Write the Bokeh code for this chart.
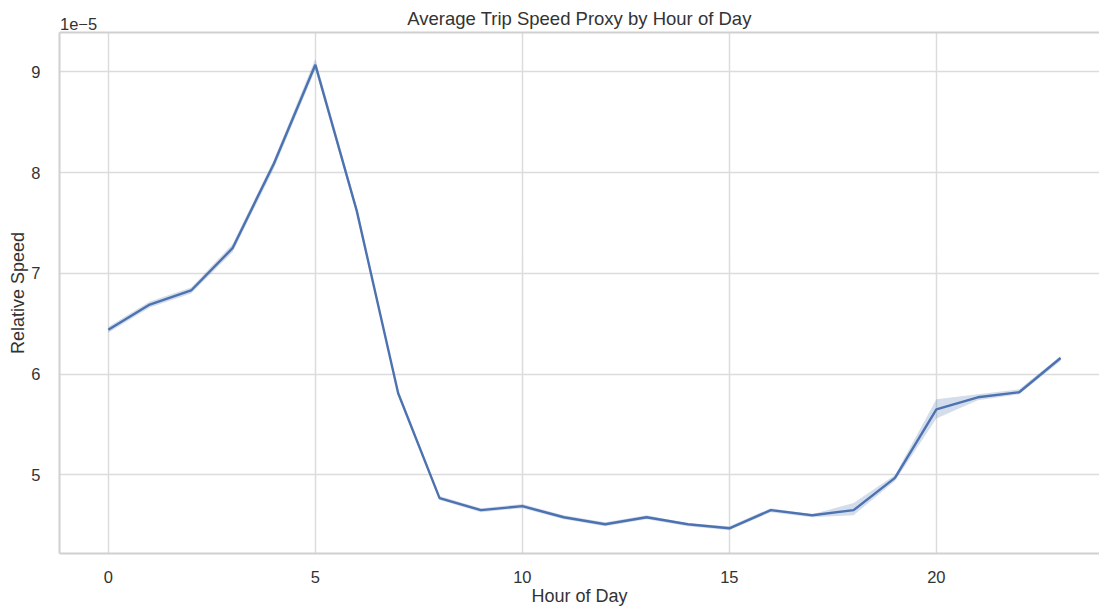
from bokeh.plotting import figure
from bokeh.models import Range1d, FixedTicker, LinearAxis, CustomJSTickFormatter
from bokeh.embed import file_html
from bokeh.resources import INLINE

# Mean relative speed per hour (units of 1e-5) with its 95% confidence band
hours = list(range(24))
speed = [6.44, 6.69, 6.83, 7.25, 8.09, 9.07, 7.62, 5.81, 4.77, 4.65, 4.69, 4.58,
         4.51, 4.58, 4.51, 4.47, 4.65, 4.60, 4.65, 4.97, 5.65, 5.77, 5.82, 6.16]
speed_lo = [6.41, 6.66, 6.80, 7.21, 8.04, 9.02, 7.59, 5.79, 4.75, 4.63, 4.67, 4.56,
            4.49, 4.56, 4.49, 4.45, 4.63, 4.58, 4.60, 4.94, 5.56, 5.74, 5.80, 6.13]
speed_hi = [6.47, 6.72, 6.86, 7.29, 8.13, 9.13, 7.66, 5.83, 4.79, 4.67, 4.71, 4.60,
            4.53, 4.60, 4.52, 4.49, 4.67, 4.61, 4.72, 5.00, 5.75, 5.80, 5.85, 6.18]
x_ticks = [0, 5, 10, 15, 20]
y_ticks = [5, 6, 7, 8, 9]
offset_text = "1e\u22125"

FONT = "Liberation Sans"
TEXT = "#333333"
GRID = "#dcdcdc"
SPINE = "#d0d0d0"
BLUE = "#4c72b0"

p = figure(width=1099, height=608, output_backend="svg", toolbar_location=None,
           x_range=Range1d(-1.18, 23.94), y_range=Range1d(4.22, 9.39),
           min_border_left=59, min_border_right=0, min_border_top=32, min_border_bottom=55)
p.outline_line_color = None
p.background_fill_color = "white"
p.border_fill_color = "white"

p.varea(x=hours, y1=speed_lo, y2=speed_hi, fill_color=BLUE, fill_alpha=0.24)
p.line(hours, speed, line_color=BLUE, line_width=2.4)

for ax in (p.xaxis[0], p.yaxis[0]):
    ax.axis_line_color = SPINE
    ax.axis_line_width = 2
    ax.major_tick_line_color = None
    ax.minor_tick_line_color = None
    ax.major_label_text_font = FONT
    ax.major_label_text_font_size = "16.5px"
    ax.major_label_text_color = TEXT
    ax.axis_label_text_font = FONT
    ax.axis_label_text_font_size = "18px"
    ax.axis_label_text_font_style = "normal"
    ax.axis_label_text_color = TEXT

p.xaxis.ticker = FixedTicker(ticks=x_ticks)
p.yaxis.ticker = FixedTicker(ticks=y_ticks)
p.yaxis.formatter = CustomJSTickFormatter(code="return tick.toFixed(0);")
p.xaxis.axis_label = "Hour of Day"
p.yaxis.axis_label = "Relative Speed"
p.xaxis.major_label_standoff = 11
p.yaxis.major_label_standoff = 13
p.xaxis.axis_label_standoff = 0
p.yaxis.axis_label_standoff = 0

# top spine, carrying the 1e-5 offset note at its left end and the chart title
top = LinearAxis(ticker=FixedTicker(ticks=[-0.72]),
                 formatter=CustomJSTickFormatter(code="return '%s';" % offset_text),
                 axis_line_color=SPINE, axis_line_width=2,
                 major_tick_line_color=None, minor_tick_line_color=None,
                 major_label_text_font=FONT, major_label_text_font_size="16.5px",
                 major_label_text_color=TEXT, major_label_standoff=-3,
                 axis_label="Average Trip Speed Proxy by Hour of Day",
                 axis_label_text_font=FONT, axis_label_text_font_size="18.5px",
                 axis_label_text_font_style="normal", axis_label_text_color=TEXT,
                 axis_label_standoff=-14)
p.add_layout(top, "above")

p.xgrid.grid_line_color = GRID
p.ygrid.grid_line_color = GRID
p.xgrid.grid_line_width = 1.5
p.ygrid.grid_line_width = 1.5

open("out.html", "w").write(file_html(p, INLINE))
